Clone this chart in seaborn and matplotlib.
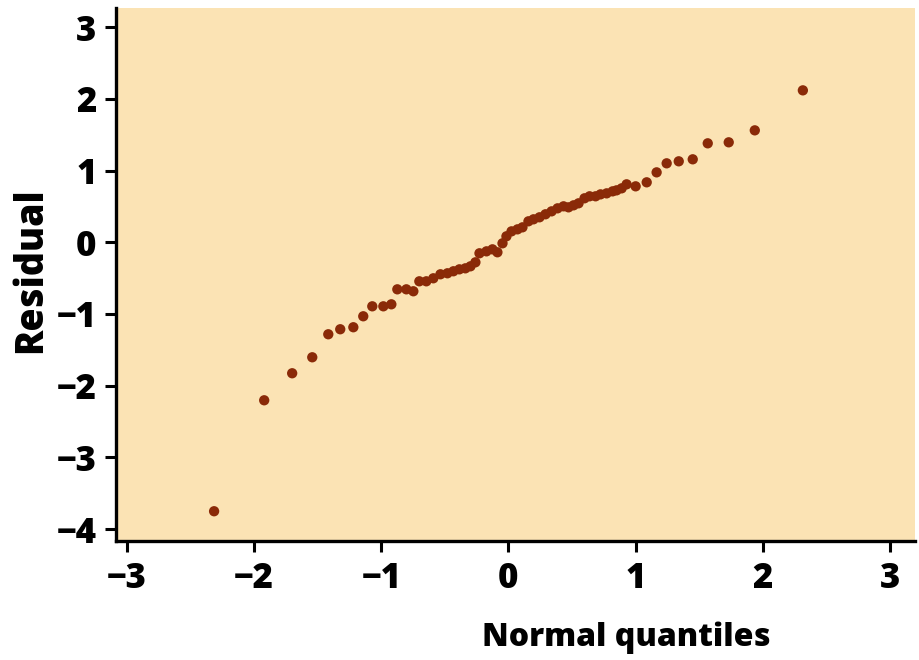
import matplotlib
matplotlib.use("Agg")
import matplotlib.pyplot as plt
import seaborn as sns
import pandas as pd

normal_quantiles = [
    -2.315, -1.921, -1.701, -1.543, -1.417, -1.323, -1.220, -1.142, -1.071, -0.984,
    -0.921, -0.874, -0.803, -0.748, -0.701, -0.646, -0.591, -0.535, -0.480, -0.433,
    -0.386, -0.339, -0.299, -0.260, -0.228, -0.173, -0.126, -0.087, -0.047, -0.016,
    0.024, 0.071, 0.110, 0.157, 0.197, 0.244, 0.291, 0.339, 0.386, 0.433,
    0.472, 0.512, 0.551, 0.598, 0.638, 0.685, 0.724, 0.772, 0.819, 0.850,
    0.890, 0.929, 1.000, 1.087, 1.165, 1.244, 1.339, 1.449, 1.567, 1.732,
    1.937, 2.315,
]
residuals = [
    -3.752, -2.204, -1.827, -1.604, -1.283, -1.213, -1.185, -1.032, -0.893, -0.893,
    -0.865, -0.656, -0.656, -0.683, -0.544, -0.544, -0.502, -0.446, -0.432, -0.404,
    -0.377, -0.363, -0.335, -0.279, -0.153, -0.126, -0.098, -0.139, -0.014, 0.084,
    0.153, 0.181, 0.209, 0.293, 0.321, 0.349, 0.391, 0.432, 0.474, 0.502,
    0.488, 0.516, 0.544, 0.614, 0.642, 0.642, 0.669, 0.683, 0.711, 0.725,
    0.753, 0.809, 0.781, 0.837, 0.976, 1.102, 1.130, 1.158, 1.381, 1.395,
    1.562, 2.120,
]
x_ticks = [-3, -2, -1, 0, 1, 2, 3]
y_ticks = [-4, -3, -2, -1, 0, 1, 2, 3]

df = pd.DataFrame({"Normal quantiles": normal_quantiles, "Residual": residuals})

sns.set_theme(style="ticks")
plt.rcParams["font.family"] = ["Open Sans", "DejaVu Sans"]

fig = plt.figure(figsize=(9.2, 6.6), dpi=100)
ax = fig.add_axes([0.126, 0.180, 0.869, 0.808])
ax.set_facecolor("#fbe3b4")

sns.scatterplot(data=df, x="Normal quantiles", y="Residual", ax=ax,
                color="#8a2a08", s=55, edgecolor="none", linewidth=0)

ax.set_xlim(-3.087, 3.2)
ax.set_ylim(-4.17, 3.27)
ax.set_xticks(x_ticks)
ax.set_yticks(y_ticks)
ax.set_xticklabels([f"{t:d}".replace("-", "\u2212") for t in x_ticks])
ax.set_yticklabels([f"{t:d}".replace("-", "\u2212") for t in y_ticks])

for side in ["top", "right"]:
    ax.spines[side].set_visible(False)
for side in ["left", "bottom"]:
    ax.spines[side].set_linewidth(2.4)
    ax.spines[side].set_color("black")

ax.tick_params(axis="both", direction="out", length=8, width=2.2, colors="black",
               labelsize=25, pad=6)
ax.tick_params(axis="x", pad=6)
for lab in ax.get_xticklabels() + ax.get_yticklabels():
    lab.set_fontweight(800)

ax.set_xlabel("Normal quantiles", fontsize=23, fontweight=800, color="black")
ax.set_ylabel("Residual", fontsize=27, fontweight=800, color="black")
ax.xaxis.set_label_coords(0.638, -0.150)
ax.yaxis.set_label_coords(-0.082, 0.508)

fig.savefig("out.png", dpi=100, facecolor="white")
